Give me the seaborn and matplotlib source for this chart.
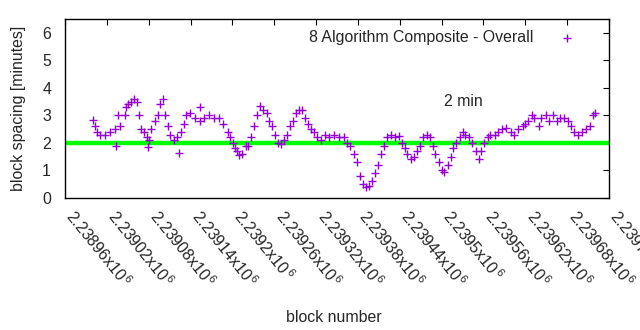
import matplotlib
matplotlib.use("Agg")
import matplotlib.pyplot as plt
import seaborn as sns
import pandas as pd

blocks = [2239000, 2239003, 2239006, 2239010, 2239017, 2239024, 2239031, 2239033, 2239036, 2239039,
          2239046, 2239047, 2239050, 2239054, 2239059, 2239063, 2239066, 2239069, 2239073, 2239077,
          2239079, 2239081, 2239084, 2239089, 2239093, 2239096, 2239100, 2239103, 2239107, 2239111,
          2239117, 2239121, 2239123, 2239126, 2239130, 2239134, 2239139, 2239146, 2239153, 2239153,
          2239160, 2239167, 2239174, 2239181, 2239187, 2239193, 2239197, 2239201, 2239204, 2239206,
          2239210, 2239214, 2239219, 2239223, 2239227, 2239231, 2239236, 2239240, 2239244, 2239249,
          2239253, 2239257, 2239261, 2239266, 2239270, 2239274, 2239279, 2239283, 2239287, 2239291,
          2239296, 2239300, 2239304, 2239309, 2239313, 2239317, 2239321, 2239327, 2239333, 2239339,
          2239346, 2239353, 2239360, 2239364, 2239369, 2239374, 2239379, 2239383, 2239387, 2239391,
          2239396, 2239400, 2239404, 2239409, 2239413, 2239417, 2239421, 2239427, 2239433, 2239439,
          2239443, 2239447, 2239451, 2239456, 2239460, 2239464, 2239469, 2239474, 2239479, 2239483,
          2239487, 2239491, 2239496, 2239500, 2239504, 2239509, 2239513, 2239517, 2239521, 2239526,
          2239530, 2239534, 2239539, 2239544, 2239549, 2239553, 2239557, 2239561, 2239566, 2239570,
          2239576, 2239581, 2239587, 2239593, 2239599, 2239604, 2239610, 2239616, 2239620, 2239624,
          2239629, 2239633, 2239639, 2239643, 2239649, 2239654, 2239660, 2239666, 2239670, 2239676,
          2239681, 2239686, 2239690, 2239696, 2239701, 2239707, 2239713, 2239717, 2239720]
spacing = [2.85, 2.6, 2.4, 2.3, 2.3, 2.4, 2.5, 1.9, 3.0, 2.6,
           3.0, 3.3, 3.4, 3.5, 3.6, 3.5, 3.0, 2.5, 2.4, 2.2,
           1.85, 2.1, 2.5, 2.8, 3.0, 3.4, 3.6, 3.0, 2.6, 2.3,
           2.1, 2.2, 1.65, 2.4, 2.7, 3.0, 3.1, 2.9, 2.8, 3.3,
           2.9, 3.0, 2.9, 2.9, 2.7, 2.4, 2.2, 2.0, 1.8, 1.7,
           1.55, 1.6, 1.9, 1.9, 2.2, 2.6, 3.0, 3.35, 3.2, 3.1,
           2.8, 2.6, 2.3, 2.0, 1.95, 2.1, 2.3, 2.6, 2.8, 3.1,
           3.2, 3.2, 2.9, 2.7, 2.5, 2.4, 2.2, 2.1, 2.3, 2.2,
           2.3, 2.2, 2.2, 2.0, 1.9, 1.6, 1.3, 0.8, 0.5, 0.4,
           0.45, 0.6, 0.9, 1.2, 1.6, 1.9, 2.2, 2.3, 2.2, 2.25,
           2.0, 1.8, 1.6, 1.4, 1.5, 1.7, 1.9, 2.2, 2.3, 2.2,
           1.9, 1.6, 1.3, 1.0, 0.95, 1.2, 1.5, 1.8, 2.0, 2.2,
           2.4, 2.3, 2.2, 2.0, 1.7, 1.4, 1.7, 2.0, 2.2, 2.3,
           2.3, 2.4, 2.5, 2.55, 2.4, 2.3, 2.5, 2.6, 2.7, 2.8,
           3.0, 2.9, 2.6, 2.9, 3.0, 2.8, 3.0, 2.8, 2.9, 2.9,
           2.8, 2.6, 2.4, 2.3, 2.4, 2.5, 2.6, 3.0, 3.1]

xticks = [2238960 + 60 * i for i in range(14)]
xtick_labels = ["2.23896", "2.23902", "2.23908", "2.23914", "2.2392", "2.23926", "2.23932",
                "2.23938", "2.23944", "2.2395", "2.23956", "2.23962", "2.23968", "2.23974"]
yticks = [0, 1, 2, 3, 4, 5, 6]
target = 2.0
series_label = "8 Algorithm Composite - Overall"

sns.set_theme(style="white")
plt.rcParams['font.family'] = ['Liberation Sans', 'DejaVu Sans']
plt.rcParams['mathtext.fontset'] = 'custom'
plt.rcParams['mathtext.rm'] = 'Liberation Sans'

FS = 11.4
fig = plt.figure(figsize=(6.4, 3.3), dpi=100)
ax = fig.add_axes([65 / 640, 132 / 330, 544 / 640, 179 / 330])

ax.axhline(target, color="#00ff00", linewidth=3.2, zorder=1)
df = pd.DataFrame({"block": blocks, "spacing": spacing})
sns.scatterplot(data=df, x="block", y="spacing", marker="+", s=40, color="#9400d3",
                linewidth=1.0, ax=ax, label=series_label, zorder=3)

ax.set_xlim(2238960, 2239740)
ax.set_ylim(0, 6.5)
ax.set_xticks(xticks)
ax.set_xticklabels([s + r"x10$^{\,6}$" for s in xtick_labels], rotation=-51,
                   ha="left", va="baseline", rotation_mode="anchor", fontsize=FS)
ax.set_yticks(yticks)
ax.set_yticklabels([str(v) for v in yticks], fontsize=FS)
ax.tick_params(direction="in", length=4, width=0.8, top=True, right=True,
               labeltop=False, labelright=False, color="black")
ax.tick_params(axis="x", pad=13.5)
ax.tick_params(axis="y", pad=10)
for sp in ax.spines.values():
    sp.set_color("black")
    sp.set_linewidth(1.0)

ax.set_xlabel("block number", fontsize=FS)
ax.xaxis.set_label_coords(269 / 544, -112 / 179)
ax.set_ylabel("block spacing [minutes]", fontsize=FS)
ax.yaxis.set_label_coords(-39 / 544, 0.5)
ax.text(2239504, 3.5, "2 min", fontsize=FS, ha="left", va="center")

leg = ax.legend(loc="upper right", frameon=False, markerfirst=False, fontsize=FS,
                handletextpad=1.15, borderaxespad=0.3, bbox_to_anchor=(0.9725, 1.0))

fig.savefig("out.png", dpi=100)
